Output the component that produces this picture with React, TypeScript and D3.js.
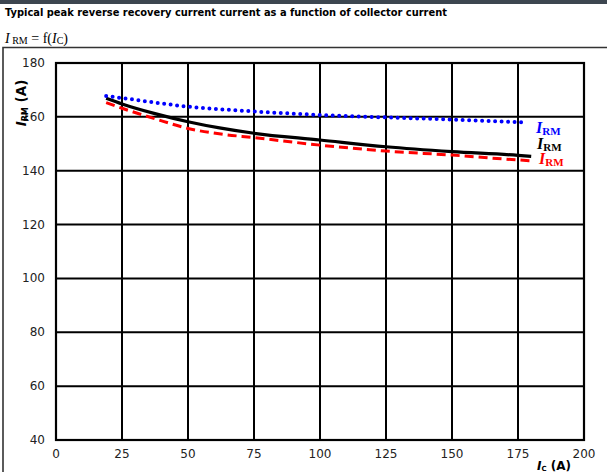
import React from "react";
import * as d3 from "d3";

const xTicks = [0, 25, 50, 75, 100, 125, 150, 175, 200];
const yTicks = [40, 60, 80, 100, 120, 140, 160, 180];

const blueX = [19, 25, 37.5, 50, 62.5, 75, 100, 125, 150, 177];
const blueY = [167.7, 167.0, 165.3, 163.8, 162.8, 162.0, 160.7, 159.8, 159.0, 158.0];
const blackX = [19, 25, 37.5, 50, 62.5, 75, 100, 125, 150, 175, 180];
const blackY = [166.9, 164.8, 161.2, 158.2, 155.8, 153.9, 151.4, 148.9, 147.1, 145.7, 145.3];
const redX = [19, 25, 37.5, 50, 62.5, 75, 100, 125, 150, 175, 180];
const redY = [165.3, 163.2, 159.3, 155.7, 153.6, 152.3, 149.5, 147.3, 145.8, 144.0, 143.7];

const W = 607;
const H = 472;
const L = 56, R = 584, T = 63, B = 440;

export default function App() {
  const x = d3.scaleLinear().domain([0, 200]).range([L, R]);
  const y = d3.scaleLinear().domain([40, 180]).range([B, T]);
  const line = d3
    .line<[number, number]>()
    .x((d) => x(d[0]))
    .y((d) => y(d[1]))
    .curve(d3.curveMonotoneX);
  const zip = (a: number[], b: number[]) => a.map((v, i) => [v, b[i]] as [number, number]);
  const font = "'DejaVu Sans', Verdana, sans-serif";
  const serif = "'Liberation Serif', 'DejaVu Serif', serif";
  return (
    <svg
      width={W}
      height={H}
      style={{ position: "absolute", left: 0, top: 0, background: "#fff" }}
    >
      <rect x={0} y={0} width={W} height={4} fill="#3d4650" />
      <text x={5} y={16} fontFamily={font} fontWeight="bold" fontSize={9.9} fill="#000">
        Typical peak reverse recovery current current as a function of collector current
      </text>
      <text x={5} y={43} fontFamily={serif} fontSize={14} fill="#000">
        <tspan fontStyle="italic">I</tspan>
        <tspan fontSize={10} dy={1}> RM</tspan>
        <tspan dy={-1}> = f(</tspan>
        <tspan fontStyle="italic">I</tspan>
        <tspan fontSize={10} dy={1}>C</tspan>
        <tspan dy={-1}>)</tspan>
      </text>
      {/* outer frame */}
      <path d={`M3,${H} V47.5 H${W}`} fill="none" stroke="#333" strokeWidth={1.6} />
      {/* grid */}
      {xTicks.map((t) => (
        <line key={"gx" + t} x1={x(t)} x2={x(t)} y1={T} y2={B} stroke="#000" strokeWidth={2} />
      ))}
      {yTicks.map((t) => (
        <line key={"gy" + t} x1={L} x2={R} y1={y(t)} y2={y(t)} stroke="#000" strokeWidth={2} />
      ))}
      <rect x={L} y={T} width={R - L} height={B - T} fill="none" stroke="#000" strokeWidth={2.2} />
      {/* tick labels */}
      {yTicks.map((t) => (
        <text key={"ty" + t} x={45} y={y(t) + 4} textAnchor="end" fontFamily={font} fontSize={12} fill="#222">
          {t}
        </text>
      ))}
      {xTicks.map((t) => (
        <text key={"tx" + t} x={x(t)} y={458} textAnchor="middle" fontFamily={font} fontSize={12} fill="#222">
          {t}
        </text>
      ))}
      {/* axis titles */}
      <text
        transform="translate(26,103) rotate(-90)"
        textAnchor="middle"
        fontFamily={font}
        fontWeight="bold"
        fontSize={13.5}
        fill="#000"
      >
        <tspan fontStyle="italic">I</tspan>
        <tspan fontSize={8} dy={2}>RM</tspan>
        <tspan dy={-2}> (A)</tspan>
      </text>
      <text x={537} y={470} fontFamily={font} fontWeight="bold" fontSize={12} fill="#000">
        <tspan fontStyle="italic">I</tspan>
        <tspan fontSize={7} dy={1}>C</tspan>
        <tspan dy={-1}> (A)</tspan>
      </text>
      {/* series */}
      <path d={line(zip(blackX, blackY)) || ""} fill="none" stroke="#000" strokeWidth={3.2} />
      <path
        d={line(zip(redX, redY)) || ""}
        fill="none"
        stroke="#ff0000"
        strokeWidth={3}
        strokeDasharray="9 5"
      />
      <path
        d={line(zip(blueX, blueY)) || ""}
        fill="none"
        stroke="#0000ff"
        strokeWidth={4}
        strokeLinecap="round"
        strokeDasharray="0 6.5"
      />
      {/* series labels */}
      <text x={536} y={133} fontFamily={serif} fontWeight="bold" fontSize={16} fill="#0000ff">
        <tspan fontStyle="italic">I</tspan>
        <tspan fontSize={11} dy={2}>RM</tspan>
      </text>
      <text x={537} y={149} fontFamily={serif} fontWeight="bold" fontSize={16} fill="#000">
        <tspan fontStyle="italic">I</tspan>
        <tspan fontSize={11} dy={2}>RM</tspan>
      </text>
      <text x={539} y={164} fontFamily={serif} fontWeight="bold" fontSize={16} fill="#ff0000">
        <tspan fontStyle="italic">I</tspan>
        <tspan fontSize={11} dy={2}>RM</tspan>
      </text>
    </svg>
  );
}
